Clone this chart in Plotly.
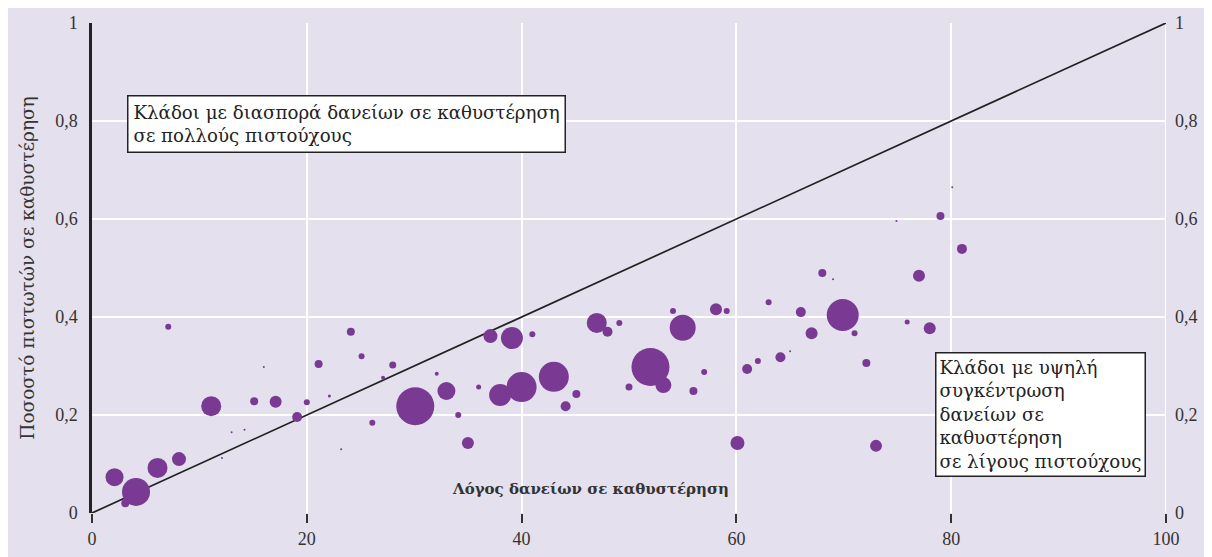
import plotly.graph_objects as go

# Loan default ratio (x, %) vs share of creditors in default (y)
x_vals = [2.1, 4.1, 3.1, 6.1, 8.1, 7.1, 11.1, 12.1, 13.0, 14.2, 15.1, 16.0, 17.1, 19.1, 20.0,
          21.1, 22.1, 23.2, 24.1, 25.1, 26.1, 27.1, 28.0, 30.1, 32.1, 33.0, 34.1, 35.0, 36.0,
          37.1, 38.0, 39.1, 40.0, 41.0, 43.0, 44.1, 45.1, 47.0, 48.0, 49.1, 50.0, 52.0, 53.2,
          54.1, 55.0, 56.0, 57.0, 58.1, 59.1, 60.1, 61.0, 62.0, 63.0, 64.1, 65.0, 66.0, 67.0,
          68.0, 69.0, 69.9, 71.0, 72.1, 73.0, 74.9, 75.9, 77.0, 78.0, 79.0, 80.1, 81.0]
y_vals = [0.073, 0.043, 0.020, 0.092, 0.110, 0.380, 0.218, 0.112, 0.165, 0.170, 0.228, 0.298,
          0.227, 0.196, 0.226, 0.304, 0.239, 0.130, 0.370, 0.320, 0.184, 0.276, 0.302, 0.218,
          0.284, 0.249, 0.200, 0.143, 0.257, 0.361, 0.241, 0.357, 0.257, 0.365, 0.278, 0.218,
          0.243, 0.388, 0.370, 0.388, 0.257, 0.298, 0.261, 0.412, 0.378, 0.249, 0.288, 0.416,
          0.412, 0.143, 0.294, 0.310, 0.430, 0.318, 0.330, 0.410, 0.367, 0.490, 0.477, 0.404,
          0.367, 0.306, 0.137, 0.596, 0.390, 0.484, 0.377, 0.606, 0.665, 0.539]
bubble_size = [18, 28, 8, 20, 14, 6, 20, 2, 2, 2, 8, 2, 12, 10, 6,
               8, 3, 2, 8, 6, 6, 4, 7, 38, 4, 18, 6, 12, 5,
               14, 22, 22, 30, 6, 30, 10, 8, 20, 10, 6, 7, 38, 16,
               6, 26, 8, 6, 12, 6, 14, 10, 6, 6, 10, 2, 10, 12,
               8, 2, 32, 6, 8, 12, 2, 5, 12, 12, 8, 2, 10]

diag_x = [0, 100]
diag_y = [0, 1]

x_ticks = [0, 20, 40, 60, 80, 100]
y_ticks = [0, 0.2, 0.4, 0.6, 0.8, 1]
y_labels = ["0", "0,2", "0,4", "0,6", "0,8", "1"]

box_left = "Κλάδοι με διασπορά δανείων σε καθυστέρηση<br>σε πολλούς πιστούχους"
box_right = "Κλάδοι με υψηλή<br>συγκέντρωση<br>δανείων σε<br>καθυστέρηση<br>σε λίγους πιστούχους"
x_title = "Λόγος δανείων σε καθυστέρηση"
y_title = "Ποσοστό πιστωτών σε καθυστέρηση"

BG = "#e4e0ee"
NUM_FONT = "Liberation Serif, DejaVu Serif, serif"
TXT_FONT = "DejaVu Serif, serif"

fig = go.Figure()
fig.add_trace(go.Scatter(x=diag_x, y=diag_y, mode="lines",
                         line=dict(color="#222222", width=1.7), hoverinfo="skip",
                         showlegend=False))
fig.add_trace(go.Scatter(x=x_vals, y=y_vals, mode="markers",
                         marker=dict(size=bubble_size, sizemode="diameter", color="#7a3a94",
                                     opacity=1, line=dict(width=0)),
                         showlegend=False, cliponaxis=False))
# invisible trace for the right axis
fig.add_trace(go.Scatter(x=[0], y=[0], yaxis="y2", mode="markers",
                         marker=dict(opacity=0), showlegend=False, hoverinfo="skip"))

fig.update_layout(
    width=1212, height=557,
    margin=dict(l=84, r=54, t=15, b=52),
    paper_bgcolor=BG, plot_bgcolor=BG,
    font=dict(family=NUM_FONT, size=17, color="#333333"),
    xaxis=dict(range=[0, 100], tickvals=x_ticks, showgrid=True, gridcolor="white", gridwidth=2,
               zeroline=False, showline=False, ticks="outside", ticklen=9, tickwidth=1.5,
               tickcolor="#333333", tickfont=dict(family=NUM_FONT, size=18), automargin=False),
    yaxis=dict(range=[0, 1], tickvals=y_ticks, ticktext=y_labels, showgrid=True,
               gridcolor="white", gridwidth=2, zeroline=False, showline=True,
               linecolor="#222222", linewidth=2.5, ticks="", ticklabelstandoff=8,
               tickfont=dict(family=NUM_FONT, size=18), automargin=False,
               title=dict(text=y_title, font=dict(family=TXT_FONT, size=18.5, color="#333333"),
                          standoff=16)),
    yaxis2=dict(range=[0, 1], tickvals=y_ticks, ticktext=y_labels, overlaying="y",
                side="right", showgrid=False, zeroline=False, showline=False,
                ticklabelstandoff=8, tickfont=dict(family=NUM_FONT, size=18), automargin=False),
    shapes=[dict(type="line", xref="x", yref="y", x0=100, x1=100, y0=0, y1=1,
                 line=dict(color="white", width=2), layer="below")],
)

fig.add_annotation(x=0.033, y=0.853, xref="paper", yref="paper", xanchor="left", yanchor="top",
                   text=box_left, showarrow=False, align="left",
                   font=dict(family=TXT_FONT, size=18.2, color="#222222"),
                   bgcolor="white", bordercolor="#222222", borderwidth=1.5, borderpad=5)
fig.add_annotation(x=0.785, y=0.328, xref="paper", yref="paper", xanchor="left", yanchor="top",
                   text=box_right, showarrow=False, align="left",
                   font=dict(family=TXT_FONT, size=18.2, color="#222222"),
                   bgcolor="white", bordercolor="#222222", borderwidth=1.5, borderpad=3)
fig.add_annotation(x=46.4, y=0.05, xref="x", yref="y", text="<b>" + x_title + "</b>",
                   showarrow=False, font=dict(family=TXT_FONT, size=15, color="#333333"))

fig.write_html("out.html")
